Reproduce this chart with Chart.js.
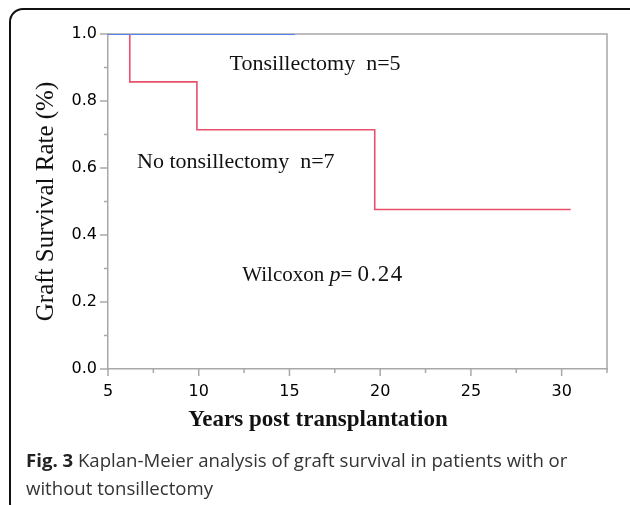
<!DOCTYPE html>
<html>
<head>
<meta charset="utf-8">
<script src="https://cdn.jsdelivr.net/npm/chart.js@4.4.1/dist/chart.umd.min.js"></script>
<style>
    html, body { margin: 0; padding: 0; background: #ffffff; overflow: hidden; }
    #wrap { position: relative; width: 630px; height: 505px; overflow: hidden; }
    #frame {
        position: absolute; left: 9px; top: 8px; width: 640px; height: 510px;
        border: 2px solid #111; border-radius: 14px; box-sizing: border-box;
    }
    #chartBox { position: absolute; left: 0; top: 0; width: 630px; height: 505px; }
    #caption {
        position: absolute; left: 26px; top: 446px; width: 600px;
        font-family: 'Open Sans', sans-serif; font-size: 18.6px; line-height: 28px; color: #333;
    }
    #caption b { color: #222; }
</style>
</head>
<body>
<div id="wrap">
    <div id="chartBox"><canvas id="kmChart" width="630" height="505"></canvas></div>
    <div id="frame"></div>
    <div id="caption"><b>Fig. 3</b> Kaplan-Meier analysis of graft survival in patients with or without tonsillectomy</div>
</div>
<script>
// 生存曲線データ（年, 生存率）
const tonsYears = [5, 15.3];
const tonsSurvival = [1.0, 1.0];
const noTonsYears = [5, 6.2, 9.9, 19.7, 30.5];
const noTonsSurvival = [1.0, 0.857, 0.714, 0.476, 0.476];

const xTickLabels = [5, 10, 15, 20, 25, 30];
const yTickLabels = [0.0, 0.2, 0.4, 0.6, 0.8, 1.0];

// 図中の注釈（データ座標で配置）
const notes = [
    { x: 11.7, y: 0.91, parts: [{ t: 'Tonsillectomy  n=5', size: 22 }] },
    { x: 6.6, y: 0.618, parts: [{ t: 'No tonsillectomy  n=7', size: 22 }] },
    {
        x: 12.4,
        y: 0.28,
        parts: [
            { t: 'Wilcoxon ', size: 21 },
            { t: 'p', size: 22, italic: true },
            { t: '= ', size: 21 },
            { t: '0.24', size: 23, spacing: 1.5 },
        ],
    },
];

const toPoints = (xs, ys) => xs.map((x, i) => ({ x: x, y: ys[i] }));

const AXIS_GRAY = '#a8a8a8';
const SERIF = "'Liberation Serif', 'Times New Roman', serif";

const kmDecorations = {
    id: 'kmDecorations',
    // 枠と目盛りは曲線の下に描く
    beforeDatasetsDraw: (chart) => {
        const ctx = chart.ctx;
        const area = chart.chartArea;
        const xs = chart.scales.x;
        const ys = chart.scales.y;

        ctx.save();
        ctx.strokeStyle = AXIS_GRAY;
        ctx.lineWidth = 1.5;
        ctx.beginPath();
        ctx.moveTo(area.left, area.top);
        ctx.lineTo(area.right, area.top);
        ctx.lineTo(area.right, area.bottom);
        ctx.stroke();

        ys.ticks.forEach((tick) => {
            const py = ys.getPixelForValue(tick.value);
            const major = yTickLabels.some((v) => Math.abs(v - tick.value) < 1e-6);
            const len = major ? 8 : 4;
            ctx.beginPath();
            ctx.moveTo(area.left - len, py);
            ctx.lineTo(area.left, py);
            ctx.stroke();
        });
        xs.ticks.forEach((tick) => {
            const px = xs.getPixelForValue(tick.value);
            const major = xTickLabels.some((v) => Math.abs(v - tick.value) < 1e-6);
            const len = major ? 7 : 4;
            ctx.beginPath();
            ctx.moveTo(px, area.bottom);
            ctx.lineTo(px, area.bottom + len);
            ctx.stroke();
        });
        ctx.restore();
    },
    afterDraw: (chart) => {
        const ctx = chart.ctx;
        const area = chart.chartArea;
        const xs = chart.scales.x;
        const ys = chart.scales.y;

        ctx.save();
        // 注釈テキスト
        ctx.fillStyle = '#111';
        ctx.textBaseline = 'middle';
        ctx.textAlign = 'left';
        notes.forEach((note) => {
            let px = xs.getPixelForValue(note.x);
            const py = ys.getPixelForValue(note.y);
            note.parts.forEach((part) => {
                ctx.font = (part.italic ? 'italic ' : '') + part.size + 'px ' + SERIF;
                ctx.letterSpacing = (part.spacing || 0) + 'px';
                ctx.fillText(part.t, px, py);
                px += ctx.measureText(part.t).width;
            });
        });
        ctx.letterSpacing = '0px';

        // 軸タイトル
        ctx.font = 'bold 23px ' + SERIF;
        ctx.textAlign = 'center';
        ctx.fillText('Years post transplantation', 318, 420);

        ctx.translate(46, (area.top + area.bottom) / 2);
        ctx.rotate(-Math.PI / 2);
        ctx.font = '25px ' + SERIF;
        ctx.fillText('Graft Survival Rate (%)', 0, 0);
        ctx.restore();
    },
};

const canvas = document.getElementById('kmChart');
new Chart(canvas.getContext('2d'), {
    type: 'line',
    data: {
        datasets: [
            {
                label: 'Tonsillectomy',
                data: toPoints(tonsYears, tonsSurvival),
                borderColor: '#5a80ec',
                borderWidth: 1.8,
                pointRadius: 0,
                stepped: 'before',
                order: 0,
            },
            {
                label: 'No tonsillectomy',
                data: toPoints(noTonsYears, noTonsSurvival),
                borderColor: '#e8506c',
                borderWidth: 1.6,
                pointRadius: 0,
                stepped: 'before',
                order: 1,
            },
        ],
    },
    options: {
        responsive: false,
        animation: false,
        layout: { padding: { left: 0, top: 34, right: 23, bottom: 0 } },
        plugins: {
            legend: { display: false },
            tooltip: { enabled: false },
        },
        scales: {
            x: {
                type: 'linear',
                min: 5,
                max: 32.5,
                afterFit: (scale) => { scale.height = 136; },
                grid: { display: false, drawTicks: false },
                border: { display: true, color: AXIS_GRAY, width: 1.5 },
                ticks: {
                    stepSize: 2.5,
                    autoSkip: false,
                    maxRotation: 0,
                    padding: 13,
                    color: '#000',
                    font: { family: "'DejaVu Sans', sans-serif", size: 16 },
                    callback: (v) => (xTickLabels.includes(v) ? String(v) : ''),
                },
            },
            y: {
                min: 0,
                max: 1,
                afterFit: (scale) => { scale.width = 108; },
                grid: { display: false, drawTicks: false },
                border: { display: true, color: AXIS_GRAY, width: 1.5 },
                ticks: {
                    stepSize: 0.1,
                    autoSkip: false,
                    padding: 11,
                    color: '#000',
                    font: { family: "'DejaVu Sans', sans-serif", size: 16 },
                    callback: (v) => (yTickLabels.some((t) => Math.abs(t - v) < 1e-6) ? v.toFixed(1) : ''),
                },
            },
        },
    },
    plugins: [kmDecorations],
});
</script>
</body>
</html>
